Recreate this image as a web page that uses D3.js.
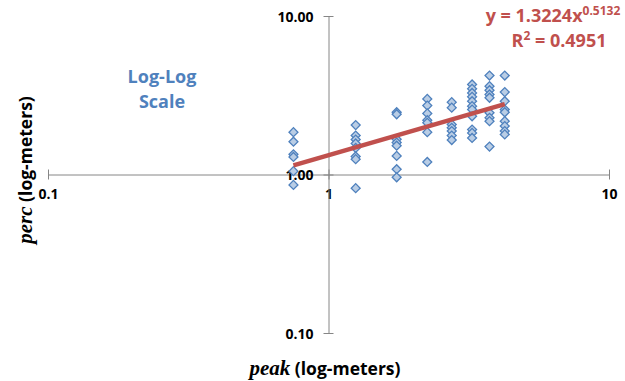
<!DOCTYPE html>
<html>
<head>
<meta charset="utf-8">
<script src="https://cdn.jsdelivr.net/npm/d3@7"></script>
<style>
  html, body { margin: 0; padding: 0; background: #fff; }
  svg { display: block; }
  text { font-family: "Open Sans", Lato, sans-serif; }
</style>
</head>
<body>
<svg id="chart" width="625" height="381"></svg>
<script>
// ---- data ----
const peakValues = [0.75, 1.25, 1.75, 2.25, 2.75, 3.25, 3.75, 4.25];
const perc075 = [1.85, 1.61, 1.34, 1.29, 1.05, 0.86];
const perc125 = [2.05, 1.76, 1.66, 1.57, 1.47, 1.30, 1.25, 0.82];
const perc175 = [2.47, 2.40, 1.67, 1.59, 1.52, 1.31, 1.08, 0.96];
const perc225 = [3.00, 2.72, 2.43, 2.20, 2.12, 1.85, 1.20];
const perc275 = [2.86, 2.64, 2.07, 1.97, 1.88, 1.76, 1.65];
const perc325 = [3.70, 3.47, 3.27, 3.09, 2.90, 2.70, 2.57, 2.33, 1.92, 1.83, 1.70];
const perc375 = [4.21, 3.61, 3.40, 3.20, 3.05, 2.45, 2.28, 2.17, 1.50];
const perc425 = [4.21, 3.31, 2.90, 2.57, 2.47, 2.17, 2.02, 1.88, 1.79];
const percColumns = [perc075, perc125, perc175, perc225, perc275, perc325, perc375, perc425];
const xTickValues = [0.1, 1, 10];
const xTickLabels = ["0.1", "1", "10"];
const yTickValues = [0.1, 1, 10];
const yTickLabels = ["0.10", "1.00", "10.00"];
const trendA = 1.3224, trendB = 0.5132, trendR2 = 0.4951;
const xTitleItalic = "peak", xTitleRest = " (log-meters)";
const yTitleItalic = "perc", yTitleRest = " (log-meters)";

const points = [];
peakValues.forEach((p, i) => percColumns[i].forEach(v => points.push({x: p, y: v})));

// ---- layout ----
const svg = d3.select("#chart");
const x = d3.scaleLog().domain([0.1, 10]).range([48, 609]);
const y = d3.scaleLog().domain([0.1, 10]).range([333, 16]);
const axisColor = "#868686";
const labelFont = "'Open Sans', Lato, sans-serif";

const minorX = x.ticks().filter(v => !xTickValues.includes(v));
const minorY = y.ticks().filter(v => !yTickValues.includes(v));

// X axis (crosses at y = 1)
const gx = svg.append("g").attr("transform", `translate(0,${y(1)})`);
gx.call(d3.axisBottom(x).tickValues(minorX).tickSize(4).tickFormat(""));
gx.call(d3.axisBottom(x).tickValues(xTickValues).tickSizeInner(5).tickSizeOuter(0)
  .tickFormat((d, i) => xTickLabels[i]));
gx.selectAll(".domain").attr("stroke", axisColor).attr("stroke-width", 1);
gx.selectAll(".tick line").attr("stroke", axisColor);
gx.selectAll(".tick text").filter(function(){ return this.textContent !== ""; })
  .attr("y", 15).attr("fill", "#000").style("font-size", "14px").style("font-weight", "bold")
  .style("font-family", labelFont);
gx.selectAll(".tick").filter(d => xTickValues.includes(d)).select("line").attr("y1", -5).attr("y2", 5);

// Y axis (crosses at x = 1)
const gy = svg.append("g").attr("transform", `translate(${x(1)},0)`);
gy.call(d3.axisLeft(y).tickValues(minorY).tickSize(4).tickFormat(""));
gy.call(d3.axisLeft(y).tickValues(yTickValues).tickSizeInner(5).tickSizeOuter(0)
  .tickFormat((d, i) => yTickLabels[i]));
gy.selectAll(".domain").attr("stroke", axisColor).attr("stroke-width", 1);
gy.selectAll(".tick line").attr("stroke", axisColor);
gy.selectAll(".tick").filter(d => yTickValues.includes(d)).select("line").attr("x1", -5).attr("x2", 5);
gy.selectAll(".tick text").filter(function(){ return this.textContent !== ""; })
  .attr("x", -15).attr("dy", "0.36em").attr("fill", "#000")
  .style("font-size", "14px").style("font-weight", "bold").style("font-family", labelFont);

// trendline
const xMin = d3.min(peakValues), xMax = d3.max(peakValues);
const trend = [xMin, xMax].map(v => ({x: v, y: trendA * Math.pow(v, trendB)}));

// points
const marker = d3.symbol().type(d3.symbolSquare).size(40);
svg.append("g").selectAll("path").data(points).join("path")
  .attr("d", marker)
  .attr("transform", d => `translate(${x(d.x)},${y(d.y)}) rotate(45)`)
  .attr("fill", "#b9cde5")
  .attr("stroke", "#4f81bd")
  .attr("stroke-width", 1.3);

svg.append("path").datum(trend)
  .attr("d", d3.line().x(d => x(d.x)).y(d => y(d.y)))
  .attr("stroke", "#c0504d").attr("stroke-width", 4.5).attr("fill", "none");

// trend equation
const eq = svg.append("text").attr("x", 553).attr("y", 22).attr("text-anchor", "middle")
  .attr("fill", "#c0504d").style("font-size", "18px").style("font-weight", "bold");
eq.append("tspan").text(`y = ${trendA.toFixed(4)}x`);
eq.append("tspan").attr("dy", -7).style("font-size", "12px").text(trendB.toFixed(4));
const r2 = svg.append("text").attr("x", 559).attr("y", 47).attr("text-anchor", "middle")
  .attr("fill", "#c0504d").style("font-size", "18px").style("font-weight", "bold");
r2.append("tspan").text("R");
r2.append("tspan").attr("dy", -7).style("font-size", "12px").text("2");
r2.append("tspan").attr("dy", 7).text(` = ${trendR2.toFixed(4)}`);

// Log-Log Scale label
const ll = svg.append("text").attr("text-anchor", "middle").attr("fill", "#4f81bd")
  .style("font-size", "18px").style("font-weight", "bold");
ll.append("tspan").attr("x", 162).attr("y", 83).text("Log-Log");
ll.append("tspan").attr("x", 162).attr("y", 108).text("Scale");

// axis titles
const xt = svg.append("text").attr("x", 325).attr("y", 375).attr("text-anchor", "middle")
  .attr("fill", "#000").style("font-size", "17.5px").style("font-weight", "bold");
xt.append("tspan").style("font-family", "'Liberation Serif', serif").style("font-style", "italic")
  .style("font-size", "21px").text(xTitleItalic);
xt.append("tspan").text(xTitleRest);

const yt = svg.append("text").attr("transform", "translate(32,170) rotate(-90)")
  .attr("text-anchor", "middle").attr("fill", "#000")
  .style("font-size", "17.5px").style("font-weight", "bold");
yt.append("tspan").style("font-family", "'Liberation Serif', serif").style("font-style", "italic")
  .style("font-size", "21px").text(yTitleItalic);
yt.append("tspan").text(yTitleRest);
</script>
</body>
</html>
